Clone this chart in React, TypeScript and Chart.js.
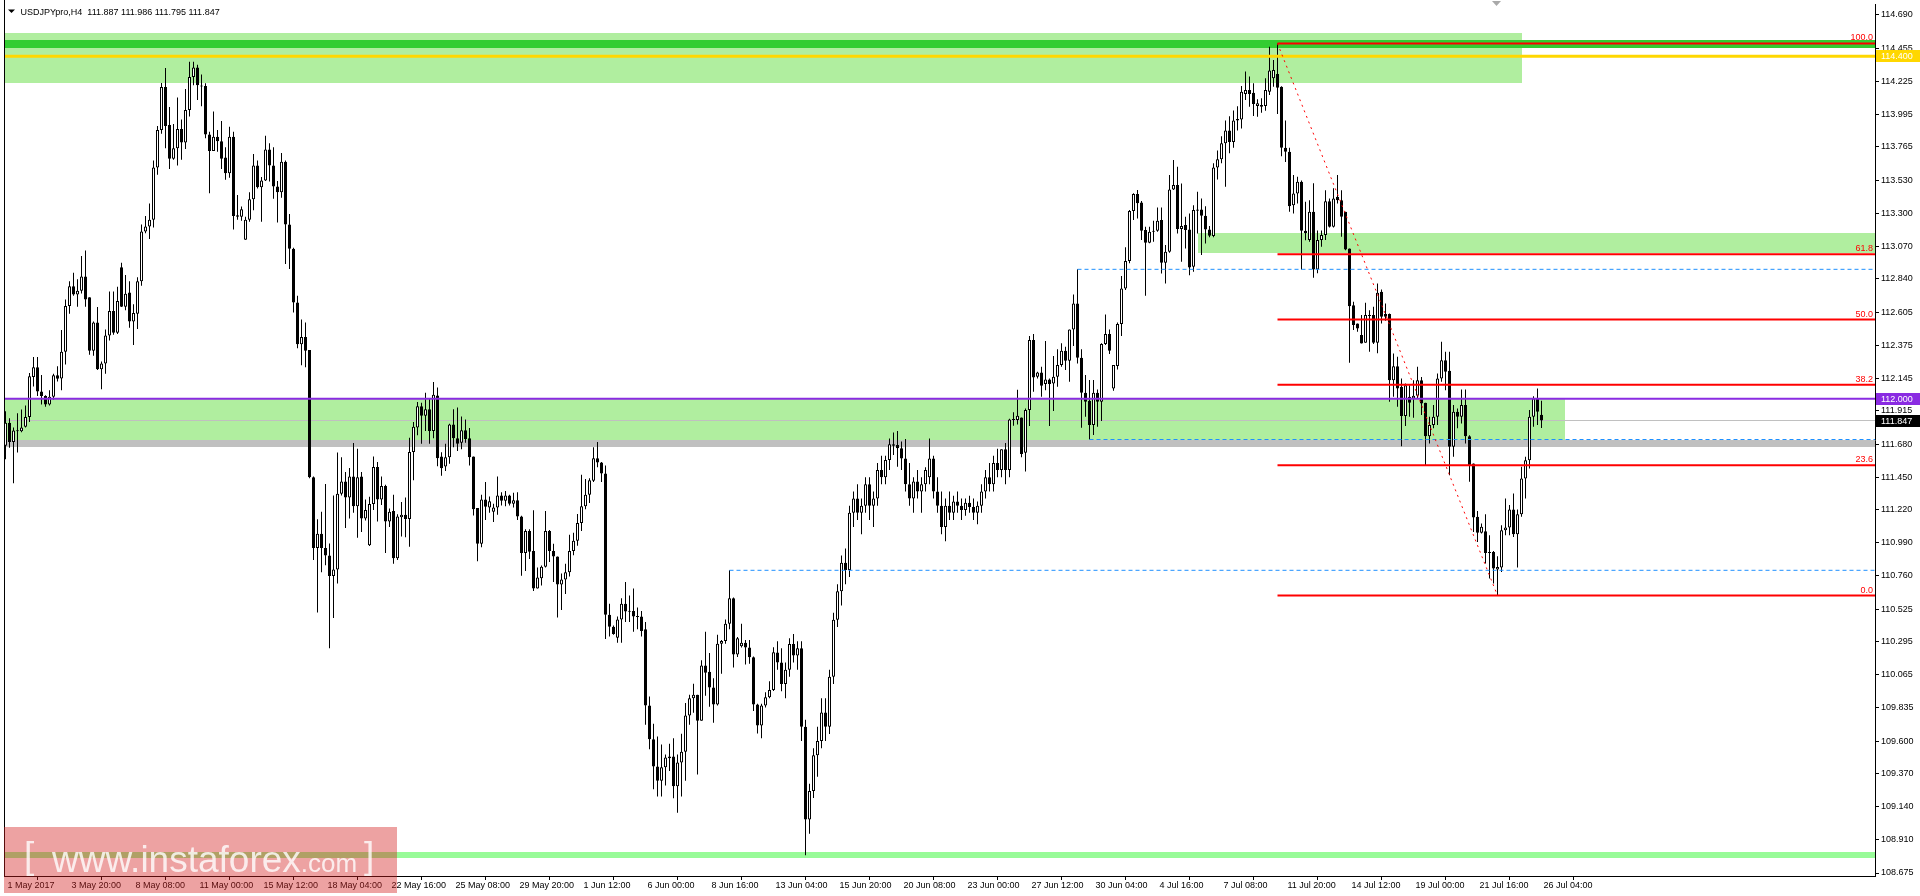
import React, { useEffect, useRef } from 'react';
import { Chart, registerables } from 'chart.js';

Chart.register(...registerables);

const titleText = 'USDJPYpro,H4  111.887 111.986 111.795 111.847';

const opens = [
  111.670, 111.831, 111.697, 111.777, 111.772, 111.804, 111.871, 112.153, 112.220, 112.051,
  112.019, 111.960, 112.014, 112.164, 112.142, 112.330, 112.650, 112.789, 112.730, 112.757,
  112.856, 112.711, 112.336, 112.534, 112.207, 112.247, 112.443, 112.615, 112.462, 112.921,
  112.644, 112.744, 112.542, 112.596, 112.824, 113.173, 113.208, 113.254, 113.621, 113.884,
  114.185, 113.919, 113.683, 113.755, 113.890, 113.796, 114.024, 114.255, 114.322, 114.193,
  114.193, 113.852, 113.737, 113.836, 113.804, 113.691, 113.581, 113.836, 113.286, 113.275,
  113.114, 113.254, 113.398, 113.635, 113.482, 113.530, 113.747, 113.635, 113.487, 113.447,
  113.661, 113.221, 113.052, 112.674, 112.381, 112.432, 112.341, 111.450, 110.953, 111.053,
  110.953, 110.900, 110.757, 110.803, 111.334, 111.420, 111.308, 111.455, 111.246, 111.455,
  111.160, 110.972, 111.262, 111.522, 111.294, 111.388, 111.139, 111.213, 110.881, 111.169,
  111.187, 111.156, 111.626, 111.799, 111.947, 111.880, 111.926, 111.773, 112.023, 111.595,
  111.524, 111.590, 111.819, 111.722, 111.692, 111.778, 111.722, 111.595, 111.233, 110.983,
  111.294, 111.238, 111.208, 111.238, 111.322, 111.284, 111.322, 111.264, 111.289, 111.174,
  110.919, 111.072, 110.932, 110.670, 110.741, 110.822, 111.072, 110.932, 110.894, 110.698,
  110.733, 110.784, 110.932, 111.004, 111.128, 111.246, 111.327, 111.424, 111.582, 111.552,
  111.475, 110.486, 110.402, 110.325, 110.453, 110.563, 110.511, 110.511, 110.473, 110.473,
  110.384, 109.849, 109.612, 109.421, 109.321, 109.416, 109.479, 109.492, 109.283, 109.449,
  109.525, 109.780, 109.900, 109.925, 109.742, 110.129, 110.086, 109.976, 109.857, 110.282,
  110.302, 110.422, 110.601, 110.206, 110.264, 110.290, 110.256, 110.188, 109.857, 109.709,
  109.849, 109.907, 109.958, 110.220, 110.150, 110.000, 110.100, 110.280, 110.200, 110.250,
  109.700, 109.050, 109.250, 109.500, 109.600, 109.800, 109.700, 110.050, 110.450, 110.650,
  110.850, 110.800, 111.200, 111.300, 111.200, 111.250, 111.400, 111.250, 111.300, 111.500,
  111.450, 111.570, 111.680, 111.675, 111.652, 111.581, 111.400, 111.300, 111.420, 111.350,
  111.400, 111.450, 111.580, 111.350, 111.250, 111.100, 111.250, 111.200, 111.280, 111.250,
  111.220, 111.270, 111.240, 111.200, 111.250, 111.350, 111.450, 111.400, 111.550, 111.500,
  111.645, 111.500, 111.855, 111.850, 111.869, 111.621, 111.920, 112.411, 112.154, 112.184,
  112.103, 112.135, 112.107, 112.154, 112.236, 112.336, 112.266, 112.486, 112.668, 112.287,
  112.042, 111.986, 111.815, 112.042, 111.979, 112.383, 112.453, 112.072, 112.229, 112.523,
  112.773, 112.965, 113.316, 113.435, 113.376, 113.182, 113.094, 113.171, 113.178, 113.252,
  112.953, 113.030, 113.467, 113.498, 113.189, 113.217, 113.187, 112.925, 113.318, 113.327,
  113.283, 113.187, 113.140, 113.621, 113.678, 113.790, 113.880, 113.800, 113.950, 113.958,
  114.136, 114.164, 114.145, 114.052, 114.059, 114.052, 114.152, 114.246, 114.276, 114.187,
  113.760, 113.731, 113.357, 113.439, 113.521, 113.177, 113.112, 113.311, 112.906, 113.112,
  113.147, 113.385, 113.205, 113.416, 113.392, 113.311, 113.053, 112.656, 112.527, 112.446,
  112.392, 112.579, 112.586, 112.392, 112.750, 112.593, 112.593, 112.130, 112.228, 112.083,
  111.878, 112.013, 112.002, 112.020, 112.130, 111.971, 111.737, 111.815, 111.873, 112.142,
  112.270, 112.196, 111.663, 111.908, 111.873, 111.955, 111.737, 111.546, 111.172, 111.060,
  111.071, 110.926, 110.926, 110.802, 110.816, 111.078, 111.097, 111.223, 111.050, 111.190,
  111.441, 111.569, 111.873, 112.002, 111.887,
];

const highs = [
  111.912, 111.863, 111.799, 111.898, 111.925, 111.952, 112.180, 112.293, 112.293, 112.166,
  112.024, 112.059, 112.175, 112.228, 112.481, 112.695, 112.824, 112.883, 112.837, 113.001,
  113.039, 112.711, 112.542, 112.642, 112.260, 112.486, 112.752, 112.752, 112.784, 112.953,
  112.867, 112.824, 112.663, 112.851, 113.221, 113.280, 113.369, 113.670, 113.911, 114.214,
  114.319, 114.045, 113.925, 114.112, 113.957, 114.171, 114.362, 114.362, 114.341, 114.273,
  114.212, 113.871, 114.013, 113.884, 113.946, 113.763, 113.906, 113.871, 113.428, 113.347,
  113.275, 113.447, 113.715, 113.670, 113.554, 113.844, 113.790, 113.763, 113.527, 113.723,
  113.670, 113.294, 113.058, 112.722, 112.556, 112.534, 112.341, 111.455, 111.155, 111.208,
  111.402, 110.985, 111.321, 111.622, 111.589, 111.487, 111.514, 111.689, 111.649, 111.487,
  111.294, 111.313, 111.595, 111.557, 111.455, 111.396, 111.230, 111.327, 111.190, 111.276,
  111.307, 111.727, 111.837, 111.977, 111.972, 112.041, 112.003, 112.117, 112.079, 111.625,
  111.684, 111.824, 111.926, 111.939, 111.875, 111.855, 111.794, 111.595, 111.233, 111.327,
  111.416, 111.314, 111.264, 111.455, 111.345, 111.353, 111.327, 111.340, 111.345, 111.179,
  111.085, 111.085, 111.218, 110.817, 110.830, 111.213, 111.080, 110.983, 110.894, 110.774,
  110.843, 111.047, 111.060, 111.192, 111.467, 111.437, 111.442, 111.659, 111.697, 111.557,
  111.531, 110.563, 110.410, 110.473, 110.601, 110.715, 110.621, 110.670, 110.537, 110.511,
  110.435, 109.912, 109.721, 109.632, 109.576, 109.505, 109.581, 109.620, 109.505, 109.652,
  109.867, 109.925, 110.002, 109.925, 110.167, 110.366, 110.218, 110.040, 110.346, 110.308,
  110.453, 110.797, 110.606, 110.330, 110.422, 110.308, 110.308, 110.193, 109.862, 109.862,
  109.943, 110.020, 110.257, 110.300, 110.250, 110.150, 110.320, 110.350, 110.300, 110.300,
  109.750, 109.300, 109.550, 109.700, 109.900, 109.900, 110.100, 110.500, 110.700, 110.900,
  110.950, 111.250, 111.350, 111.400, 111.300, 111.450, 111.450, 111.350, 111.550, 111.600,
  111.600, 111.721, 111.763, 111.773, 111.700, 111.717, 111.550, 111.450, 111.500, 111.450,
  111.520, 111.721, 111.600, 111.450, 111.350, 111.300, 111.350, 111.320, 111.350, 111.300,
  111.300, 111.320, 111.300, 111.280, 111.400, 111.500, 111.550, 111.600, 111.650, 111.645,
  111.690, 111.860, 111.905, 112.063, 111.869, 111.932, 112.439, 112.453, 112.189, 112.224,
  112.404, 112.142, 112.299, 112.346, 112.388, 112.364, 112.486, 112.731, 112.907, 112.346,
  112.166, 112.131, 112.131, 112.065, 112.388, 112.591, 112.486, 112.236, 112.535, 112.860,
  113.061, 113.323, 113.440, 113.463, 113.386, 113.206, 113.206, 113.248, 113.341, 113.341,
  113.077, 113.568, 113.673, 113.626, 113.509, 113.276, 113.299, 113.357, 113.451, 113.404,
  113.350, 113.210, 113.650, 113.740, 113.840, 113.950, 113.980, 114.020, 114.050, 114.192,
  114.293, 114.258, 114.211, 114.099, 114.106, 114.246, 114.468, 114.375, 114.490, 114.190,
  113.950, 113.760, 113.568, 113.556, 113.530, 113.380, 113.392, 113.510, 113.180, 113.180,
  113.462, 113.404, 113.475, 113.568, 113.462, 113.311, 113.053, 112.679, 112.527, 112.586,
  112.672, 112.620, 112.644, 112.808, 112.766, 112.668, 112.598, 112.317, 112.294, 112.142,
  112.107, 112.095, 112.130, 112.224, 112.153, 111.971, 111.873, 111.955, 112.177, 112.399,
  112.329, 112.329, 111.955, 111.931, 112.065, 112.065, 111.744, 111.546, 111.213, 111.125,
  111.190, 111.043, 110.933, 110.896, 111.113, 111.300, 111.254, 111.335, 111.223, 111.523,
  111.593, 111.920, 112.018, 112.072, 111.986,
];

const lows = [
  111.576, 111.657, 111.407, 111.622, 111.764, 111.799, 111.836, 112.086, 112.019, 111.960,
  111.944, 111.952, 111.992, 112.121, 112.059, 112.239, 112.596, 112.722, 112.644, 112.738,
  112.644, 112.309, 112.301, 112.201, 112.067, 112.175, 112.408, 112.448, 112.454, 112.642,
  112.620, 112.497, 112.376, 112.489, 112.792, 113.160, 113.119, 113.200, 113.570, 113.857,
  113.755, 113.610, 113.675, 113.635, 113.675, 113.750, 113.978, 114.198, 114.094, 114.051,
  113.825, 113.441, 113.737, 113.731, 113.610, 113.535, 113.549, 113.186, 113.254, 113.248,
  113.114, 113.240, 113.321, 113.474, 113.240, 113.527, 113.522, 113.401, 113.235, 113.409,
  112.945, 112.910, 112.604, 112.354, 112.234, 112.220, 111.442, 110.870, 110.502, 110.784,
  110.833, 110.250, 110.462, 110.704, 111.321, 111.093, 111.160, 111.200, 111.026, 111.066,
  111.147, 110.967, 111.219, 111.139, 111.254, 110.918, 111.100, 110.843, 110.870, 111.034,
  111.029, 110.963, 111.429, 111.743, 111.684, 111.773, 111.684, 111.722, 111.526, 111.460,
  111.493, 111.544, 111.659, 111.633, 111.646, 111.692, 111.531, 111.182, 110.861, 110.958,
  111.149, 111.200, 111.136, 111.187, 111.251, 111.246, 111.251, 111.238, 111.149, 110.759,
  110.792, 110.876, 110.652, 110.670, 110.690, 110.817, 110.856, 110.715, 110.466, 110.519,
  110.631, 110.754, 110.902, 110.970, 111.072, 111.225, 111.269, 111.416, 111.519, 111.416,
  110.315, 110.333, 110.346, 110.290, 110.290, 110.435, 110.435, 110.366, 110.384, 110.333,
  109.714, 109.543, 109.263, 109.212, 109.212, 109.288, 109.390, 109.199, 109.097, 109.212,
  109.321, 109.714, 109.798, 109.365, 109.742, 109.918, 109.841, 109.729, 109.849, 110.071,
  110.282, 110.384, 110.116, 110.190, 110.256, 110.137, 110.142, 109.811, 109.653, 109.620,
  109.836, 109.900, 109.951, 110.100, 109.950, 109.900, 110.050, 110.150, 110.100, 109.600,
  108.800, 108.950, 109.200, 109.350, 109.550, 109.600, 109.650, 110.000, 110.400, 110.550,
  110.700, 110.750, 111.100, 111.150, 111.050, 111.200, 111.150, 111.100, 111.250, 111.400,
  111.400, 111.500, 111.605, 111.523, 111.500, 111.350, 111.250, 111.200, 111.300, 111.200,
  111.350, 111.400, 111.300, 111.200, 111.050, 111.000, 111.150, 111.150, 111.200, 111.150,
  111.180, 111.200, 111.150, 111.120, 111.200, 111.300, 111.350, 111.350, 111.450, 111.450,
  111.400, 111.450, 111.810, 111.820, 111.590, 111.490, 111.808, 112.049, 112.142, 112.014,
  112.060, 111.808, 111.913, 112.084, 112.224, 112.201, 112.119, 112.369, 112.247, 111.796,
  111.873, 111.714, 111.745, 111.803, 111.843, 112.376, 112.313, 112.056, 112.205, 112.439,
  112.762, 112.949, 113.253, 113.264, 113.112, 112.722, 113.089, 113.101, 113.171, 112.878,
  112.808, 113.023, 113.463, 113.159, 112.960, 113.053, 112.866, 112.890, 113.159, 113.007,
  113.088, 113.131, 113.131, 113.537, 113.650, 113.486, 113.720, 113.760, 113.880, 113.895,
  114.094, 114.047, 113.982, 113.977, 114.005, 114.019, 114.129, 114.187, 113.996, 113.700,
  113.660, 113.311, 113.299, 113.369, 112.906, 113.110, 113.100, 112.848, 112.880, 113.065,
  113.112, 113.200, 113.200, 113.369, 113.135, 113.040, 112.252, 112.481, 112.470, 112.387,
  112.392, 112.330, 112.383, 112.318, 112.527, 112.546, 111.978, 112.013, 111.943, 111.667,
  111.808, 111.873, 111.866, 112.002, 111.885, 111.534, 111.686, 111.792, 111.815, 112.119,
  112.060, 111.464, 111.593, 111.792, 111.826, 111.686, 111.417, 111.066, 110.996, 111.055,
  110.845, 110.739, 110.704, 110.620, 110.786, 111.043, 111.043, 111.031, 110.816, 111.172,
  111.300, 111.511, 111.803, 111.815, 111.795,
];

const closes = [
  111.831, 111.697, 111.777, 111.772, 111.799, 111.871, 112.158, 112.220, 112.051, 112.019,
  111.960, 112.014, 112.164, 112.140, 112.330, 112.650, 112.789, 112.730, 112.757, 112.856,
  112.695, 112.336, 112.534, 112.207, 112.247, 112.443, 112.615, 112.462, 112.685, 112.644,
  112.736, 112.542, 112.601, 112.824, 113.173, 113.208, 113.254, 113.621, 113.884, 114.185,
  113.911, 113.683, 113.755, 113.890, 113.796, 114.024, 114.255, 114.322, 114.198, 114.188,
  113.852, 113.737, 113.836, 113.804, 113.683, 113.581, 113.836, 113.280, 113.275, 113.329,
  113.254, 113.398, 113.635, 113.482, 113.530, 113.747, 113.635, 113.487, 113.447, 113.661,
  113.221, 113.052, 112.674, 112.381, 112.432, 112.336, 111.450, 110.953, 111.053, 110.953,
  110.900, 110.757, 110.803, 111.334, 111.420, 111.308, 111.455, 111.246, 111.450, 111.160,
  111.219, 111.262, 111.522, 111.294, 111.388, 111.139, 111.208, 110.881, 111.174, 111.187,
  111.156, 111.626, 111.804, 111.947, 111.880, 111.926, 111.773, 112.028, 111.582, 111.513,
  111.590, 111.819, 111.722, 111.684, 111.778, 111.717, 111.590, 111.225, 110.983, 111.294,
  111.243, 111.281, 111.238, 111.322, 111.284, 111.322, 111.264, 111.289, 111.174, 110.919,
  111.072, 110.927, 110.670, 110.746, 110.822, 111.072, 110.932, 110.894, 110.698, 110.733,
  110.784, 110.932, 111.004, 111.128, 111.246, 111.327, 111.429, 111.582, 111.552, 111.475,
  110.486, 110.402, 110.351, 110.453, 110.563, 110.509, 110.506, 110.473, 110.470, 110.371,
  109.849, 109.612, 109.421, 109.321, 109.416, 109.484, 109.492, 109.283, 109.449, 109.525,
  109.780, 109.900, 109.925, 109.742, 110.129, 110.078, 109.976, 109.857, 110.282, 110.302,
  110.422, 110.601, 110.206, 110.320, 110.290, 110.256, 110.188, 109.857, 109.709, 109.849,
  109.907, 109.958, 110.223, 110.150, 110.000, 110.100, 110.280, 110.200, 110.250, 109.700,
  109.050, 109.250, 109.500, 109.600, 109.800, 109.700, 110.050, 110.450, 110.650, 110.850,
  110.800, 111.200, 111.300, 111.200, 111.250, 111.400, 111.250, 111.300, 111.500, 111.450,
  111.570, 111.680, 111.670, 111.652, 111.581, 111.400, 111.300, 111.420, 111.350, 111.400,
  111.500, 111.580, 111.350, 111.250, 111.100, 111.250, 111.200, 111.280, 111.250, 111.220,
  111.270, 111.240, 111.200, 111.250, 111.350, 111.450, 111.400, 111.550, 111.500, 111.645,
  111.500, 111.855, 111.850, 111.880, 111.612, 111.920, 112.411, 112.149, 112.184, 112.091,
  112.135, 112.103, 112.154, 112.236, 112.336, 112.266, 112.486, 112.668, 112.287, 112.042,
  111.979, 111.815, 112.042, 111.979, 112.383, 112.453, 112.336, 112.236, 112.523, 112.773,
  112.965, 113.316, 113.435, 113.370, 113.178, 113.094, 113.171, 113.178, 113.248, 112.953,
  113.030, 113.467, 113.498, 113.189, 113.210, 113.182, 112.920, 113.322, 113.327, 113.283,
  113.187, 113.142, 113.621, 113.678, 113.790, 113.880, 113.800, 113.950, 113.960, 114.152,
  114.164, 114.136, 114.066, 114.071, 114.047, 114.164, 114.300, 114.304, 114.180, 113.760,
  113.731, 113.350, 113.439, 113.521, 113.177, 113.160, 113.311, 112.906, 113.112, 113.147,
  113.385, 113.205, 113.404, 113.392, 113.276, 113.046, 112.649, 112.516, 112.492, 112.387,
  112.586, 112.586, 112.392, 112.743, 112.574, 112.574, 112.130, 112.228, 112.072, 111.878,
  112.095, 111.971, 112.020, 112.130, 111.967, 111.737, 111.815, 111.873, 112.142, 112.270,
  112.189, 111.663, 111.908, 111.873, 111.955, 111.737, 111.534, 111.167, 111.060, 111.102,
  110.919, 110.919, 110.809, 110.821, 111.078, 111.097, 111.223, 111.050, 111.190, 111.441,
  111.569, 111.873, 112.002, 111.908, 111.847,
];

const xTickBars = [0, 16, 32, 48, 64, 80, 96, 112, 128, 144, 160, 176, 192, 208, 224, 240, 256, 272, 288, 304, 320, 336, 352, 368, 384];
const xTickLabels = [
  '1 May 2017', '3 May 20:00', '8 May 08:00', '11 May 00:00', '15 May 12:00', '18 May 04:00',
  '22 May 16:00', '25 May 08:00', '29 May 20:00', '1 Jun 12:00', '6 Jun 00:00', '8 Jun 16:00',
  '13 Jun 04:00', '15 Jun 20:00', '20 Jun 08:00', '23 Jun 00:00', '27 Jun 12:00', '30 Jun 04:00',
  '4 Jul 16:00', '7 Jul 08:00', '11 Jul 20:00', '14 Jul 12:00', '19 Jul 00:00', '21 Jul 16:00',
  '26 Jul 04:00',
];
const yTickValues = [
  114.690, 114.455, 114.225, 113.995, 113.765, 113.530, 113.300, 113.070, 112.840,
  112.605, 112.375, 112.145, 111.915, 111.680, 111.450, 111.220, 110.990, 110.760,
  110.525, 110.295, 110.065, 109.835, 109.600, 109.370, 109.140, 108.910, 108.675,
];

const X_MIN = -0.375;
const X_MAX = 467.375;
const Y_MIN = 108.654;
const Y_MAX = 114.767;

const fibLevels = [114.49, 113.012, 112.555, 112.098, 111.533, 110.62];
const fibLabels = ['100.0', '61.8', '50.0', '38.2', '23.6', '0.0'];
const fibStartBar = 318;
const fibTrendBars = [318, 373];
const fibTrendPrices = [114.49, 110.62];

const dashedLevels = [112.907, 111.714, 110.797];
const dashedStartBars = [268, 271, 181];

const yellowLevel = 114.4;
const purpleLevel = 112.0;
const bidLevel = 111.847;

// zones: start bar, end bar, upper price, lower price
const upperZone = [X_MIN, 379, 114.562, 114.214];
const darkZone = [X_MIN, X_MAX, 114.515, 114.461];
const middleZone = [X_MIN, 389.75, 112.0, 111.714];
const greyZone = [X_MIN, X_MAX, 111.714, 111.658];
const rightZone = [298, X_MAX, 113.163, 113.023];
const bottomZone = [X_MIN, X_MAX, 108.824, 108.778];

const axisMarks = [
  { price: 114.4, text: '114.400', bg: '#ffd700' },
  { price: 112.0, text: '112.000', bg: '#8a2be2' },
  { price: 111.847, text: '111.847', bg: '#000000' },
];

const FONT = '"Liberation Sans", Arial, sans-serif';

export default function App() {
  const ref = useRef<HTMLCanvasElement>(null);

  useEffect(() => {
    const canvas = ref.current;
    if (!canvas) return;
    const n = Math.min(opens.length, highs.length, lows.length, closes.length);
    const bodies: any[] = [];
    const wicks: any[] = [];
    const bodyColors: string[] = [];
    for (let i = 0; i < n; i++) {
      bodies.push({ x: i, y: [opens[i], closes[i]] });
      wicks.push({ x: i, y: [lows[i], highs[i]] });
      bodyColors.push(closes[i] >= opens[i] ? '#ffffff' : '#000000');
    }
    const hline = (from: number, level: number) => [
      { x: from, y: level },
      { x: X_MAX, y: level },
    ];

    const lineDs = (data: any[], color: string, width: number, order: number, dash: number[] = []) => ({
      type: 'line' as const,
      data,
      borderColor: color,
      borderWidth: width,
      borderDash: dash,
      pointRadius: 0,
      fill: false,
      tension: 0,
      order,
    });

    const bandsPlugin = {
      id: 'bands',
      beforeDatasetsDraw(chart: any) {
        const { ctx, chartArea, scales } = chart;
        const xs = scales.x;
        const ys = scales.y;
        ctx.save();
        ctx.beginPath();
        ctx.rect(chartArea.left, chartArea.top, chartArea.right - chartArea.left, chartArea.bottom - chartArea.top);
        ctx.clip();
        const zone = (z: number[], color: string) => {
          const xa = Math.round(xs.getPixelForValue(z[0]));
          const xb = Math.round(xs.getPixelForValue(z[1]));
          const ya = Math.round(ys.getPixelForValue(z[2]));
          const yb = Math.round(ys.getPixelForValue(z[3]));
          ctx.fillStyle = color;
          ctx.fillRect(xa, ya, xb - xa, yb - ya);
        };
        zone(upperZone, '#b0ee9f');
        zone(darkZone, '#32cd32');
        zone(middleZone, '#b0ee9f');
        zone(greyZone, '#c0c0c0');
        zone(rightZone, '#b0ee9f');
        zone(bottomZone, '#98fb98');
        ctx.restore();
      },
    };

    const decorPlugin = {
      id: 'decor',
      afterDraw(chart: any) {
        const { ctx, chartArea, scales } = chart;
        const ys = scales.y;
        ctx.save();
        // left frame
        ctx.strokeStyle = '#000';
        ctx.lineWidth = 1;
        ctx.beginPath();
        ctx.moveTo(chartArea.left + 0.5, 0);
        ctx.lineTo(chartArea.left + 0.5, chartArea.bottom);
        ctx.stroke();

        // fib labels
        ctx.font = `9px ${FONT}`;
        ctx.fillStyle = '#ff0000';
        ctx.textAlign = 'right';
        ctx.textBaseline = 'bottom';
        fibLevels.forEach((lv, k) => {
          const py = ys.getPixelForValue(lv);
          ctx.fillText(fibLabels[k], chartArea.right - 2, py - 1);
        });

        // axis price boxes
        ctx.textAlign = 'left';
        ctx.textBaseline = 'middle';
        axisMarks.forEach((m) => {
          const py = Math.round(ys.getPixelForValue(m.price));
          ctx.fillStyle = m.bg;
          ctx.fillRect(chartArea.right + 1, py - 6, 1920 - chartArea.right - 1, 12);
          ctx.fillStyle = '#ffffff';
          ctx.fillText(m.text, chartArea.right + 6, py + 0.5);
        });

        // title
        ctx.fillStyle = '#000';
        ctx.beginPath();
        ctx.moveTo(8, 9.5);
        ctx.lineTo(15, 9.5);
        ctx.lineTo(11.5, 13);
        ctx.closePath();
        ctx.fill();
        ctx.textBaseline = 'alphabetic';
        ctx.fillText(titleText, 20.5, 14.5);

        // chart shift marker
        ctx.fillStyle = '#a9a9a9';
        ctx.beginPath();
        ctx.moveTo(1492, 1);
        ctx.lineTo(1501, 1);
        ctx.lineTo(1496.5, 6);
        ctx.closePath();
        ctx.fill();

        // watermark
        ctx.fillStyle = 'rgba(211, 29, 29, 0.41)';
        ctx.fillRect(4, 827, 393, 66);
        ctx.fillStyle = 'rgba(255, 255, 255, 0.8)';
        ctx.textBaseline = 'alphabetic';
        ctx.font = `300 37px ${FONT}`;
        ctx.fillText('[', 24, 868);
        ctx.fillText('www.instaforex', 52, 872);
        const w1 = ctx.measureText('www.instaforex').width;
        ctx.font = `26px ${FONT}`;
        ctx.fillText('.com', 52 + w1, 872);
        ctx.font = `300 37px ${FONT}`;
        ctx.fillText(']', 364, 868);
        ctx.restore();
      },
    };

    const datasets: any[] = [
      lineDs(hline(X_MIN, bidLevel), '#c0c0c0', 1, 10),
      {
        type: 'bar',
        data: wicks,
        backgroundColor: '#000000',
        borderWidth: 0,
        barThickness: 1,
        grouped: false,
        inflateAmount: 0,
        order: 4,
      },
      {
        type: 'bar',
        data: bodies,
        backgroundColor: bodyColors,
        borderColor: '#000000',
        borderWidth: 1,
        borderSkipped: false,
        barThickness: 3,
        minBarLength: 1,
        grouped: false,
        inflateAmount: 0,
        order: 3,
      },
      lineDs(hline(X_MIN, yellowLevel), '#ffd700', 3, 2),
      lineDs(hline(X_MIN, purpleLevel), '#8a2be2', 2, 2),
      ...fibLevels.map((lv) => lineDs(hline(fibStartBar, lv), '#ff0000', 2, 1)),
      ...dashedLevels.map((lv, k) => lineDs(hline(dashedStartBars[k], lv), '#1e90ff', 1, 1, [4, 3])),
      lineDs(
        fibTrendBars.map((b, k) => ({ x: b, y: fibTrendPrices[k] })),
        '#ff0000',
        1,
        0,
        [2, 4]
      ),
    ];

    const chart = new Chart(canvas, {
      type: 'bar',
      data: { datasets },
      options: {
        animation: false,
        responsive: false,
        devicePixelRatio: 1,
        events: [],
        layout: { padding: { left: 4, top: 4, right: 0, bottom: 0 } },
        plugins: {
          legend: { display: false },
          tooltip: { enabled: false },
          title: { display: false },
        },
        scales: {
          x: {
            type: 'linear',
            min: X_MIN,
            max: X_MAX,
            offset: false,
            afterBuildTicks: (s: any) => {
              s.ticks = xTickBars.map((v) => ({ value: v }));
            },
            afterFit: (s: any) => {
              s.height = 20;
              s.paddingLeft = 0;
              s.paddingRight = 0;
            },
            ticks: {
              autoSkip: false,
              maxRotation: 0,
              minRotation: 0,
              align: 'start',
              labelOffset: 2,
              padding: 0,
              color: '#000000',
              font: { family: FONT, size: 9 },
              callback: (_v: any, i: number) => xTickLabels[i],
            },
            grid: { drawOnChartArea: false, drawTicks: true, tickLength: 4, color: '#000000', lineWidth: 1 },
            border: { display: true, color: '#000000', width: 1 },
          },
          y: {
            type: 'linear',
            position: 'right',
            min: Y_MIN,
            max: Y_MAX,
            afterBuildTicks: (s: any) => {
              s.ticks = yTickValues.map((v) => ({ value: v }));
            },
            afterFit: (s: any) => {
              s.width = 45;
              s.paddingTop = 0;
              s.paddingBottom = 0;
            },
            ticks: {
              autoSkip: false,
              padding: 2,
              color: '#000000',
              font: { family: FONT, size: 9 },
              callback: (v: any) => Number(v).toFixed(3),
            },
            grid: { drawOnChartArea: false, drawTicks: true, tickLength: 4, color: '#000000', lineWidth: 1 },
            border: { display: true, color: '#000000', width: 1 },
          },
        },
      } as any,
      plugins: [bandsPlugin, decorPlugin],
    });
    return () => chart.destroy();
  }, []);

  return (
    <div style={{ position: 'fixed', left: 0, top: 0, width: 1920, height: 896, background: '#ffffff' }}>
      <canvas ref={ref} width={1920} height={896} style={{ display: 'block', width: 1920, height: 896 }} />
    </div>
  );
}
